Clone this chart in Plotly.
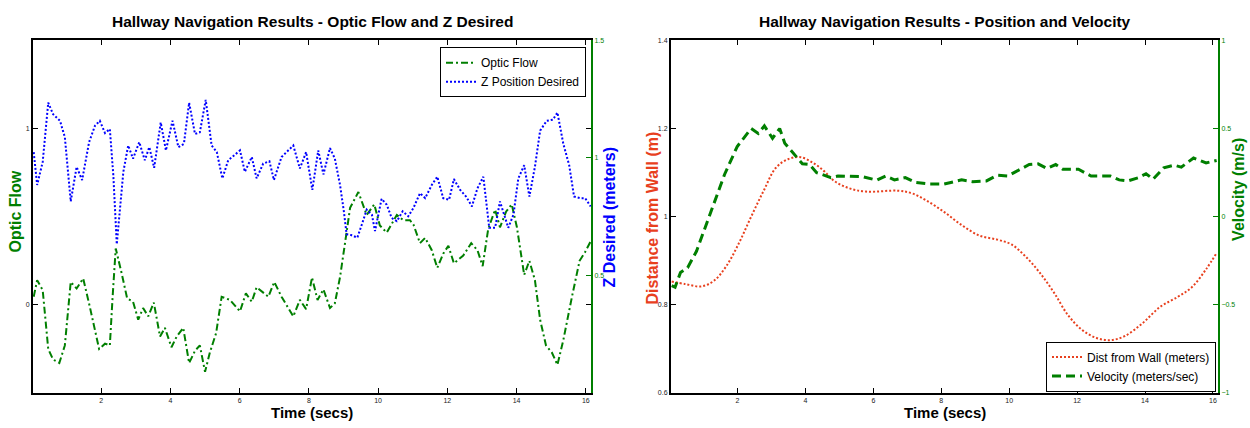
import plotly.graph_objects as go

# ---------------- Left panel data ----------------
t_optic = [0.05, 0.15, 0.31, 0.47, 0.61, 0.79, 0.95, 1.12, 1.29, 1.48, 1.67, 1.82, 1.94, 2.11, 2.25,
           2.33, 2.42, 2.59, 2.75, 2.92, 3.07, 3.21, 3.36, 3.52, 3.70, 3.84, 4.03, 4.18, 4.37, 4.54,
           4.71, 4.85, 5.00, 5.14, 5.32, 5.48, 5.72, 6.01, 6.18, 6.35, 6.49, 6.83, 7.00, 7.21, 7.55,
           7.74, 7.92, 8.09, 8.25, 8.42, 8.61, 8.75, 8.90, 9.04, 9.19, 9.43, 9.67, 9.89, 10.05, 10.25,
           10.39, 10.54, 10.73, 10.92, 11.02, 11.21, 11.36, 11.55, 11.71, 11.88, 12.03, 12.19, 12.46,
           12.69, 12.87, 13.02, 13.18, 13.38, 13.52, 13.70, 13.86, 14.01, 14.22, 14.37, 14.53, 14.68,
           14.85, 15.02, 15.18, 15.35, 15.60, 15.82, 15.98, 16.14]
optic_flow = [0.046, 0.14, 0.084, -0.25, -0.31, -0.33, -0.23, 0.13, 0.093, 0.15, -0.01, -0.14, -0.25,
              -0.22, -0.23, 0.046, 0.32, 0.18, 0.037, 0.018, -0.084, -0.018, -0.065, 0.013, -0.18,
              -0.13, -0.24, -0.18, -0.13, -0.33, -0.26, -0.23, -0.38, -0.27, -0.16, 0.046, 0.028,
              -0.037, 0.065, 0.018, 0.10, 0.046, 0.13, 0.046, -0.065, 0.028, -0.024, 0.155, 0.028,
              0.088, -0.018, 0.009, 0.158, 0.345, 0.55, 0.64, 0.51, 0.57, 0.45, 0.41, 0.456, 0.51,
              0.48, 0.48, 0.456, 0.35, 0.38, 0.31, 0.21, 0.29, 0.335, 0.236, 0.28, 0.35, 0.31, 0.22,
              0.43, 0.54, 0.44, 0.53, 0.57, 0.44, 0.17, 0.25, 0.14, -0.084, -0.23, -0.27, -0.34,
              -0.20, 0.046, 0.25, 0.30, 0.36]

t_zdes = [0.05, 0.15, 0.31, 0.47, 0.61, 0.81, 0.95, 1.05, 1.12, 1.29, 1.45, 1.65, 1.82, 1.96, 2.11,
          2.25, 2.35, 2.45, 2.54, 2.64, 2.78, 2.92, 3.10, 3.26, 3.39, 3.53, 3.72, 3.87, 4.06, 4.23,
          4.39, 4.54, 4.71, 4.85, 5.02, 5.19, 5.34, 5.50, 5.67, 6.01, 6.15, 6.35, 6.49, 6.68, 6.86,
          6.99, 7.21, 7.55, 7.74, 7.92, 8.10, 8.27, 8.42, 8.61, 8.75, 8.90, 9.01, 9.09, 9.22, 9.40,
          9.53, 9.67, 9.82, 9.91, 10.10, 10.25, 10.39, 10.54, 10.71, 10.87, 11.02, 11.21, 11.36,
          11.55, 11.71, 11.88, 12.05, 12.19, 12.37, 12.54, 12.71, 12.87, 13.04, 13.21, 13.38, 13.52,
          13.64, 13.76, 13.91, 14.05, 14.22, 14.37, 14.53, 14.68, 14.87, 15.05, 15.18, 15.35, 15.52,
          15.66, 15.84, 15.98, 16.14]
z_desired = [1.025, 0.885, 0.983, 1.235, 1.186, 1.158, 1.088, 0.927, 0.815, 0.962, 0.906, 1.067,
             1.137, 1.158, 1.106, 1.123, 0.927, 0.633, 0.773, 0.941, 1.053, 0.997, 1.067, 0.99,
             1.046, 0.958, 1.151, 1.032, 1.158, 1.046, 1.06, 1.235, 1.102, 1.109, 1.247, 1.053,
             1.025, 0.913, 0.99, 1.032, 0.941, 1.004, 0.913, 0.976, 0.986, 0.906, 1.004, 1.053,
             0.955, 1.025, 0.864, 1.032, 0.93, 1.042, 0.997, 0.885, 0.773, 0.675, 0.672, 0.661,
             0.717, 0.78, 0.759, 0.689, 0.826, 0.801, 0.745, 0.731, 0.773, 0.752, 0.787, 0.85,
             0.829, 0.885, 0.92, 0.829, 0.822, 0.91, 0.864, 0.836, 0.794, 0.871, 0.92, 0.703,
             0.703, 0.815, 0.759, 0.703, 0.759, 0.913, 0.969, 0.836, 0.962, 1.116, 1.158, 1.163,
             1.193, 1.06, 0.969, 0.836, 0.829, 0.829, 0.794]

# ---------------- Right panel data ----------------
t_dist = [0.06, 0.47, 0.94, 1.31, 1.67, 2.04, 2.40, 2.77, 3.13, 3.50, 3.86, 4.23, 4.54, 4.85, 5.27,
          5.79, 6.73, 7.14, 7.56, 8.08, 8.60, 9.13, 9.65, 10.07, 10.48, 10.90, 11.31, 11.73, 12.15,
          12.57, 12.98, 13.40, 13.92, 14.44, 14.96, 15.38, 15.80, 16.11]
dist_wall = [0.853, 0.847, 0.842, 0.855, 0.888, 0.940, 1.0, 1.059, 1.111, 1.131, 1.135, 1.122, 1.104,
             1.081, 1.065, 1.057, 1.059, 1.053, 1.037, 1.011, 0.981, 0.957, 0.948, 0.937, 0.910,
             0.873, 0.829, 0.777, 0.743, 0.725, 0.720, 0.729, 0.758, 0.795, 0.818, 0.840, 0.881,
             0.918]

t_vel = [0.06, 0.16, 0.32, 0.53, 0.79, 1.05, 1.31, 1.62, 1.99, 2.40, 2.61, 2.79, 3.03, 3.24, 3.39,
         3.65, 3.91, 4.12, 4.33, 4.75, 4.96, 5.69, 6.10, 6.36, 6.62, 6.94, 7.25, 7.67, 8.08, 8.60,
         8.92, 9.33, 9.65, 9.96, 10.27, 10.59, 10.85, 11.11, 11.37, 11.58, 12.04, 12.41, 12.98,
         13.24, 13.50, 13.82, 14.03, 14.24, 14.55, 14.86, 15.07, 15.43, 15.80, 16.11]
velocity = [-0.391, -0.400, -0.316, -0.289, -0.196, -0.057, 0.074, 0.241, 0.398, 0.500, 0.472, 0.515,
            0.445, 0.500, 0.417, 0.361, 0.300, 0.296, 0.250, 0.222, 0.231, 0.227, 0.207, 0.231,
            0.209, 0.222, 0.194, 0.185, 0.185, 0.209, 0.199, 0.203, 0.235, 0.231, 0.263, 0.296,
            0.300, 0.274, 0.296, 0.269, 0.269, 0.231, 0.231, 0.209, 0.203, 0.222, 0.244, 0.213,
            0.277, 0.292, 0.281, 0.333, 0.305, 0.319]

x_ticks = [2, 4, 6, 8, 10, 12, 14, 16]
left_y_ticks = [0, 1]
zdes_ticks = [0.5, 1, 1.5]
dist_ticks = [0.6, 0.8, 1, 1.2, 1.4]
vel_ticks = [-1, -0.5, 0, 0.5, 1]

titles = ["Hallway Navigation Results - Optic Flow and Z Desired",
          "Hallway Navigation Results - Position and Velocity"]

GREEN = "#007F00"
BLUE = "#0000FF"
RED = "#E8401E"
SANS = "Liberation Sans, Arial, sans-serif"

W, H = 1250, 428
def px(x):
    return x / W
def py(y):
    return 1 - y / H

fig = go.Figure()

fig.add_trace(go.Scatter(x=t_optic, y=optic_flow, name="Optic Flow", mode="lines",
                         line=dict(color=GREEN, width=2, dash="7px,3px,2px,3px"),
                         xaxis="x", yaxis="y", legend="legend"))
fig.add_trace(go.Scatter(x=t_zdes, y=z_desired, name="Z Position Desired", mode="lines",
                         line=dict(color=BLUE, width=2, dash="2px,2px"),
                         xaxis="x", yaxis="y2", legend="legend"))
fig.add_trace(go.Scatter(x=t_dist, y=dist_wall, name="Dist from Wall (meters)", mode="lines",
                         line=dict(color=RED, width=2, dash="2px,2px", shape="spline"),
                         xaxis="x2", yaxis="y3", legend="legend2"))
fig.add_trace(go.Scatter(x=t_vel, y=velocity, name="Velocity (meters/sec)", mode="lines",
                         line=dict(color=GREEN, width=3, dash="9px,5px"),
                         xaxis="x2", yaxis="y4", legend="legend2"))

tickfont = dict(family=SANS, size=7, color="#222")
gtickfont = dict(family=SANS, size=7, color=GREEN)

dom_y = [py(395.5), py(37)]
dom_l = [px(33), px(591)]
dom_r = [px(671), px(1218)]

common_x = dict(showline=True, linecolor="black", linewidth=2, mirror="ticks", ticks="inside",
                ticklen=5, tickcolor="black", tickwidth=1, showgrid=False, zeroline=False,
                tickvals=x_ticks, tickfont=tickfont)
common_y = dict(showline=True, linecolor="black", linewidth=2, mirror="ticks", ticks="inside",
                ticklen=5, tickcolor="black", tickwidth=1, showgrid=False, zeroline=False,
                tickfont=tickfont)
green_y = dict(showline=True, linecolor=GREEN, linewidth=2, ticks="inside", ticklen=5,
               tickcolor=GREEN, tickwidth=1, showgrid=False, zeroline=False, side="right",
               tickfont=gtickfont)

legend_font = dict(family=SANS, size=12, color="black")

fig.update_layout(
    width=W, height=H, margin=dict(l=0, r=0, t=0, b=0),
    paper_bgcolor="white", plot_bgcolor="white",
    xaxis=dict(domain=dom_l, range=[0.03, 16.15], anchor="y", **common_x),
    yaxis=dict(domain=dom_y, range=[-0.5, 1.5], anchor="x", tickvals=left_y_ticks, **common_y),
    yaxis2=dict(domain=dom_y, range=[0, 1.5], overlaying="y", anchor="x", tickvals=zdes_ticks,
                **green_y),
    xaxis2=dict(domain=dom_r, range=[0.04, 16.15], anchor="y3", **common_x),
    yaxis3=dict(domain=dom_y, range=[0.6, 1.4], anchor="x2", tickvals=dist_ticks, **common_y),
    yaxis4=dict(domain=dom_y, range=[-1, 1], overlaying="y3", anchor="x2", tickvals=vel_ticks,
                **green_y),
    legend=dict(x=px(586), xanchor="right", y=py(44), yanchor="top", bgcolor="white",
                bordercolor="black", borderwidth=1, font=legend_font,
                itemwidth=30, tracegroupgap=0),
    legend2=dict(x=px(1216), xanchor="right", y=py(394), yanchor="bottom", bgcolor="white",
                 bordercolor="black", borderwidth=1, font=legend_font,
                 itemwidth=30, tracegroupgap=0),
    showlegend=True,
)

ann = []
ann.append(dict(text="<b>%s</b>" % titles[0], x=px(312), y=py(18), xref="paper", yref="paper",
                xanchor="center", yanchor="middle", showarrow=False,
                font=dict(family=SANS, size=15.5, color="black")))
ann.append(dict(text="<b>%s</b>" % titles[1], x=px(944.5), y=py(18), xref="paper", yref="paper",
                xanchor="center", yanchor="middle", showarrow=False,
                font=dict(family=SANS, size=15.5, color="black")))
for cx in (312, 944.5):
    ann.append(dict(text="<b>Time (secs)</b>", x=px(cx), y=py(415), xref="paper", yref="paper",
                    xanchor="center", yanchor="middle", showarrow=False,
                    font=dict(family=SANS, size=15, color="black")))
ylabels = [("Optic Flow", 16, 211, GREEN),
           ("Z Desired (meters)", 609, 217, BLUE),
           ("Distance from Wall (m)", 652, 217, RED),
           ("Velocity (m/s)", 1239, 189, GREEN)]
for txt, cx, cy, col in ylabels:
    ann.append(dict(text="<b>%s</b>" % txt, x=px(cx), y=py(cy), xref="paper", yref="paper",
                    xanchor="center", yanchor="middle", showarrow=False, textangle=-90,
                    font=dict(family=SANS, size=16, color=col)))
fig.update_layout(annotations=ann)

fig.write_html("out.html", config={"displayModeBar": False},
               post_script="document.body.style.margin='0px';")
